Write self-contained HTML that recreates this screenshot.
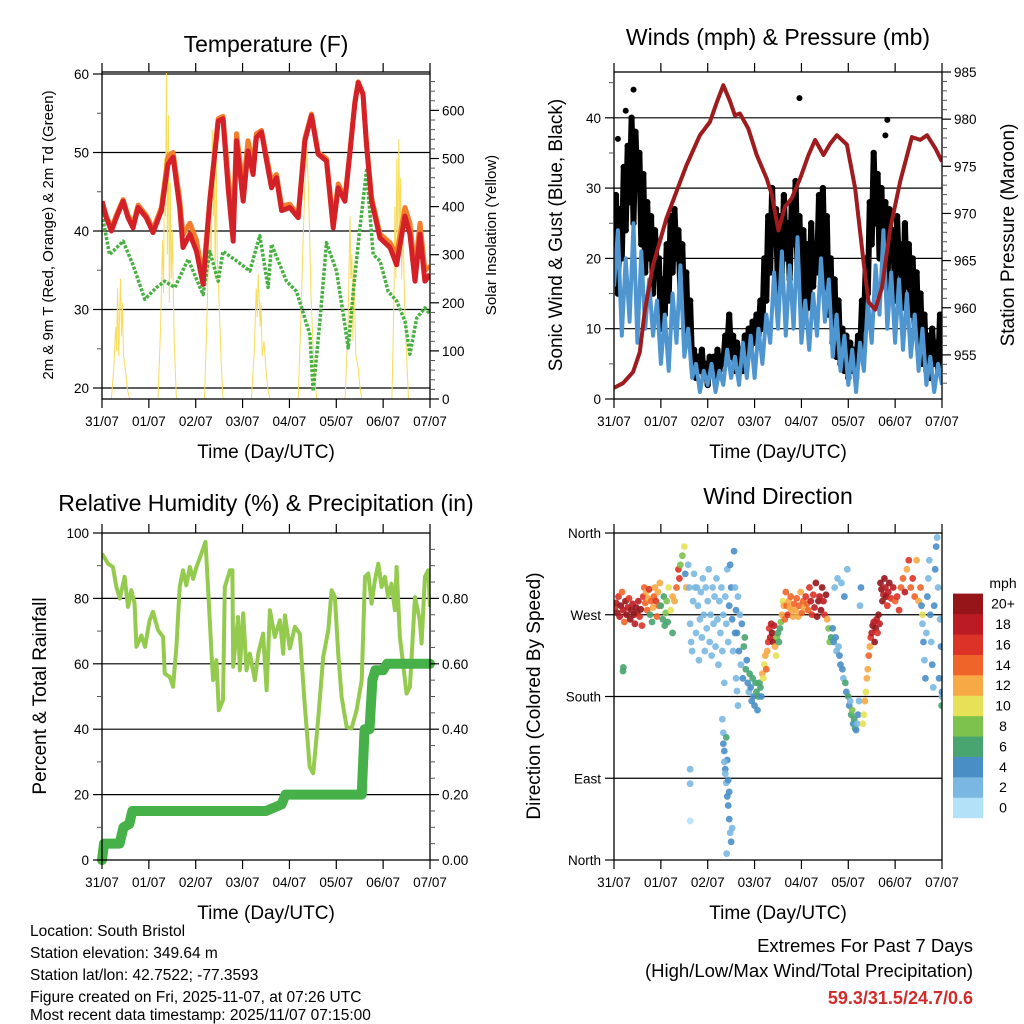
<!DOCTYPE html>
<html><head><meta charset="utf-8"><style>
html,body{margin:0;padding:0;background:#fff;}
svg{display:block;font-family:"Liberation Sans",sans-serif;}
</style></head><body>
<svg id="chart" width="1024" height="1024" viewBox="0 0 1024 1024">
<rect x="0" y="0" width="1024" height="1024" fill="#fff"/>
<text x="266" y="52" font-size="23" text-anchor="middle">Temperature (F)</text>
<text x="778" y="45" font-size="23" text-anchor="middle">Winds (mph) &amp; Pressure (mb)</text>
<text x="266" y="511" font-size="23" text-anchor="middle">Relative Humidity (%) &amp; Precipitation (in)</text>
<text x="778" y="504" font-size="23" text-anchor="middle">Wind Direction</text>
<text x="266" y="458" font-size="19" text-anchor="middle">Time (Day/UTC)</text>
<text x="778" y="458" font-size="19" text-anchor="middle">Time (Day/UTC)</text>
<text x="266" y="919" font-size="19" text-anchor="middle">Time (Day/UTC)</text>
<text x="778" y="919" font-size="19" text-anchor="middle">Time (Day/UTC)</text>
<text transform="translate(53,235) rotate(-90)" font-size="15" text-anchor="middle">2m &amp; 9m T (Red, Orange) &amp; 2m Td (Green)</text>
<text transform="translate(496,235) rotate(-90)" font-size="15" text-anchor="middle">Solar Insolation (Yellow)</text>
<text transform="translate(562,235) rotate(-90)" font-size="19" text-anchor="middle">Sonic Wind &amp; Gust (Blue, Black)</text>
<text transform="translate(1014,235) rotate(-90)" font-size="19" text-anchor="middle">Station Pressure (Maroon)</text>
<text transform="translate(46,696) rotate(-90)" font-size="19" text-anchor="middle">Percent &amp; Total Rainfall</text>
<text transform="translate(540,696) rotate(-90)" font-size="19" text-anchor="middle">Direction (Colored By Speed)</text>
<text x="1003" y="588" font-size="14" text-anchor="middle">mph</text>
<g font-size="15.5">
<text x="30" y="936">Location: South Bristol</text>
<text x="30" y="958">Station elevation: 349.64 m</text>
<text x="30" y="980">Station lat/lon: 42.7522; -77.3593</text>
<text x="30" y="1002">Figure created on Fri, 2025-11-07, at 07:26 UTC</text>
<text x="30" y="1024" dy="-4">Most recent data timestamp: 2025/11/07 07:15:00</text>
</g>
<text x="973" y="952" font-size="18.5" text-anchor="end">Extremes For Past 7 Days</text>
<text x="973" y="977" font-size="18.5" text-anchor="end">(High/Low/Max Wind/Total Precipitation)</text>
<text x="973" y="1004" font-size="18" font-weight="bold" fill="#d22b2b" text-anchor="end">59.3/31.5/24.7/0.6</text>
<defs>
<clipPath id="c1"><rect x="102" y="72" width="328" height="327"/></clipPath>
<clipPath id="c2"><rect x="614" y="72" width="328" height="327"/></clipPath>
<clipPath id="c3"><rect x="102" y="533" width="328" height="327"/></clipPath>
<clipPath id="c4"><rect x="614" y="533" width="328" height="327"/></clipPath>
</defs>
</svg>
<script>
// ---------- data ----------
const dayLabels=["31/07","01/07","02/07","03/07","04/07","05/07","06/07","07/07"];
const tempTimes=[0,2.2,4.8,7.3,10.8,13.3,15.9,18.5,22.7,26.1,30.4,33.8,36.4,39.8,41.5,45,48.4,51.8,55.2,59.5,62,64.6,67.2,68.9,72.3,74.8,77.4,79.1,81.7,84.3,86.8,89.4,92,96.2,100.5,103.9,107.3,110.7,115,118.4,121,124.4,126.9,129.5,131.2,133.7,135.4,138.1,142.4,147.5,150.9,155.2,157.7,160.3,162.9,165.4,168];
const temp2m=[43.8,41.7,40,41.7,43.8,41.7,40.4,43,41.7,39.8,42.6,48.5,49.4,43,37.9,39.6,37.4,33.2,43.8,54,54.3,45.5,38.7,51.5,43.8,50.2,47.2,51.9,52.6,48.9,45.5,46.8,42.6,43,41.7,51.5,54.7,49.8,48.9,40.4,45.5,43.8,49.8,56.2,58.9,57.4,51.1,43.8,39.1,37.9,35.7,41.9,39.6,33.6,39.6,33.6,34.5];
const temp9m=[43.8,41.9,40.3,42,44,42,40.8,43.3,42,40.2,43,49.5,50,44,39.5,41,38.8,34,44,54.3,54.6,47,40.5,52.4,45.5,51.5,48.5,52.4,52.8,49.4,46.3,47.2,43.2,43.4,42,51.8,54.9,50,49.2,41,46,44.2,50,56.4,59,57.5,51.4,44.2,39.6,38.5,37,43,41,35,41,35,35.5];
const dewTimes=[0,3.9,10.8,15.9,21.9,27.9,32.1,37.3,44.1,51.8,55.2,59.5,62,68.9,75.7,80.8,85.1,86.8,94.5,99.6,106.5,108.2,111.6,115,120.1,123.6,126.1,128.7,132.1,135.5,138.9,142.4,146.6,150.9,155.2,157.7,161.2,165.4,168];
const dewPoint=[42.1,37,38.7,35.7,31.3,32.8,33.6,32.8,36.4,31.9,37.4,33.6,37.4,36.2,34.9,39.4,32.8,38.3,33.6,32.3,26.8,19.6,28.5,38.5,34.9,29.4,25.1,32.3,40.4,47.7,37,36.2,32.3,31.1,28.5,24.3,28.9,30.2,29.4];
const solarTimes=[0,4.8,6,7,7.5,8,8.5,9,9.5,10,10.5,11,12,13,14.2,28.7,30,31,31.5,32,32.5,33,33.5,34,34.5,35,35.5,36,37,38.1,52.5,54,55,56,56.5,57,57.5,58,58.5,59,60,61,62,76.5,78,79,79.5,80,81,81.5,82,83,84,85,86,100.5,102,103,104,105,106,107,108,109,110,124.5,126,127,127.5,128,128.5,129,130,131,132,133,148.5,149.5,150,150.5,151,151.5,152,152.5,153,153.5,154,155,156,157,168];
const solarValues=[0,0,60,150,100,230,90,180,250,130,200,90,60,20,0,0,150,330,220,500,380,680,300,590,200,450,250,350,120,0,0,200,420,300,560,380,470,250,520,300,200,80,0,0,100,230,170,260,150,200,90,120,60,20,0,0,180,330,450,520,400,220,120,40,0,0,150,380,250,300,120,280,90,70,30,0,0,200,400,250,500,300,540,350,460,250,380,200,90,0,0];
const presTimes=[0,4.6,9.8,13.2,15.7,20,26.9,32.9,37.1,44,49.1,52.5,56,59.4,61.9,64.5,68.8,73.1,78.2,80.8,84.2,87.6,91,95.3,99.6,103,107.3,110.7,114.1,119.3,123.5,127.8,130.4,133.8,137.2,141.5,146.6,152.6,156.9,160.3,164.6,168];
const pressure=[951.5,952,953.2,955.3,959.6,964.5,969.5,972.8,975.1,978.3,979.7,981.7,983.6,981.9,980.4,980.6,979,976.2,973.7,972,968.2,970.7,971.6,973.7,976.2,977.8,976.2,977.4,978.3,977.3,972.7,964.9,960.6,959.8,962.1,968.4,973.4,978.1,977.8,978.3,976.9,975.5];
const sonicWind=[16,24,9,20,11,25,8,21,10,17,9,14,5,12,4,15,8,19,6,10,3,5,1,4,2,5,1,4,2,7,3,6,2,8,3,9,3,10,5,12,8,18,10,21,9,19,10,23,8,14,7,15,9,20,11,17,6,12,4,9,2,7,1,8,4,14,8,19,12,24,10,18,8,17,7,15,6,12,4,10,2,6,1,5,2];
const gust=[22,29,15,27,20,33,24,36,28,40,25,38,30,35,22,32,18,28,20,26,15,24,18,20,10,17,12,22,14,26,18,27,20,24,15,22,12,18,8,14,5,7,3,6,4,7,3,5,2,6,4,6,3,7,4,6,5,9,7,12,6,9,4,8,5,7,4,9,6,10,7,11,8,12,9,14,10,20,14,26,18,30,22,27,15,26,18,29,20,25,17,28,22,31,18,26,14,24,12,22,13,25,16,22,18,29,20,30,16,26,12,20,8,17,6,14,5,10,4,9,3,8,4,7,3,9,6,14,10,20,15,28,22,35,25,32,20,30,18,28,15,27,20,24,14,26,18,22,13,25,16,22,12,20,10,18,8,15,5,12,4,9,3,10,5,8,4,12,6];
const gustOutlierTimes=[10,95,2,6,140,139];
const gustOutlierValues=[44,42.8,37,41,39.7,37.5];
const rhTimes=[0,3.1,5.6,7.4,9.1,11.6,13.3,15,16.7,17.6,20.2,22,24.4,26.1,28.7,31.3,32.1,34.7,36.4,38.1,39.8,41.5,43.2,45,46.7,48.4,50.9,53,54.3,56.1,56.9,58.6,59.8,62,62.9,65.5,66.8,67.2,69.7,70.6,72.3,74,75.7,78.3,80,82.5,84.3,86,88.5,91.1,92.8,93.7,96.2,98.8,101.3,103.9,106.4,108.2,110.7,113.3,115.9,117.6,119.3,121,122.7,125.3,127.8,130.4,133,134.7,136.4,138.1,139.8,141.5,143.2,144.9,146.6,148.3,150,150.9,152.6,156,157.7,160.3,162.8,163.7,165.4,167.1,168];
const rhValues=[93.7,90.6,89.6,83.5,80,86.6,77.4,82.5,78.4,65.2,68.7,65.2,73.3,75.9,70.3,68.2,57,56,53,65.2,83.5,88.6,84,89.6,86,89.6,93.7,97.3,83.5,63.1,55,61.1,45.8,48.9,83.5,88.6,88.6,59.1,74.3,58,75.4,58,63.1,55,63.1,69.2,51.9,76.4,68.2,73.3,63.1,74.8,64.7,71.3,69.2,46.8,28.5,26.5,42.8,62.1,70.3,82.5,80.4,63.1,49.9,40.7,40.2,45.8,55,86.6,87.6,78.4,85.5,90.6,83.5,86.6,80.4,84.5,76.4,89.6,68.2,50.9,52.9,80.4,73.3,66.2,86.6,88.6,77.4];
const rainTimes=[0,1,9,11,14,15.5,84,88,92,94,133,134.5,137,138.5,140,144,146,168];
const rainTotals=[0,0.05,0.05,0.10,0.11,0.15,0.15,0.16,0.17,0.20,0.20,0.40,0.40,0.55,0.58,0.58,0.60,0.60];
// wind direction points: time (h), direction (deg), speed (mph)
const dirTimes=[
0.5,1.1,1.7,2.3,2.9,3.5,4.1,4.7,5.3,5.9,6.5,7.1,7.7,8.3,8.9,9.5,10.1,10.7,11.3,11.9,12.5,13.1,13.7,14.3,4.6,4.8,
15,15.5,16,16.5,17,17.5,18,18.5,19,19.5,20,20.5,21,21.5,22,22.5,23,23.5,
24,25,25.5,26,26.5,27,27.5,28,29,30,31,32,33,33.5,34,35,36,37,36.5,30,
38,38.5,39,39.5,40,40.5,41,41.5,42,42.5,43,43.5,44,44.5,45,45.5,46,46.5,47,47.5,48,48.5,49,49.5,50,50.5,51,51.5,52,52.5,53,53.5,54,54.5,55,55.5,56,56.5,57,57.5,58,58.5,59,59.5,60,60.5,61,61.5,62,62.5,63,63.5,
55.5,56,56.5,57,57.5,58,58.5,59,59.5,60,57,58,59,56,60.5,58.5,57.5,56.5,57.7,39,39,39,
62,62.5,63,63.5,64,64.5,65,65.5,66,66.5,67,67.5,68,68.5,69,69.5,70,70.5,71,71.5,72,72.5,73,73.5,74,74.5,75,75.5,76,76.5,77,77.5,
78,78.5,79,79.5,80,80.5,81,81.5,82,82.5,83,83.5,84,84.5,85,85.5,86,86.5,87,87.5,88,88.5,89,89.5,90,90.5,
91,91.7,92.3,93,93.6,94.3,94.9,95.6,96.2,96.9,97.5,98.2,98.8,99.5,100.1,100.8,101.4,102.1,102.7,103.4,104,104.7,105.3,106,106.6,107.3,107.9,108.6,109.2,109.9,110.5,111.2,
112,112.5,113,113.5,114,114.5,115,115.5,116,116.5,117,117.5,118,118.5,119,119.5,120,120.5,121,121.5,122,122.5,123,123.5,124,124.5,125,125.5,126,126.5,
127.5,128,128.5,129,129.5,130,130.5,131,131.5,132,132.5,133,133.5,134,134.5,135,135.5,136,
136.5,137,137.5,138,138.5,139,139.5,140,140.5,141,142,143,144,145,146,147,148,149,150,151,152,153,154,155,156,157,158,
157.5,158,158.5,159,159.5,160,160.5,161,161.5,162,162.5,163,163.5,164,164.5,165,165.5,166,166.5,167,167.5,168,168,167.8];
const dirValues=[
278,283,272,290,268,280,295,275,262,285,270,278,288,265,275,282,270,260,278,272,285,268,276,258,208,212,
290,300,283,295,275,288,298,270,285,262,278,290,300,285,268,295,280,305,
280,265,290,258,272,285,262,300,275,290,285,300,320,310,325,335,345,300,315,250,
325,300,260,240,230,285,315,300,250,300,280,220,265,295,245,310,270,230,300,255,285,320,240,270,225,300,260,290,235,310,265,215,285,250,300,230,270,195,290,260,320,240,280,325,300,265,230,340,250,200,186,170,
155,140,120,100,85,70,60,45,30,20,95,110,75,128,35,88,135,108,7,100,84,43,
300,275,250,290,230,270,215,260,200,235,245,210,220,195,185,205,190,175,200,180,170,195,185,165,180,195,190,180,205,200,215,225,
210,230,240,255,245,260,250,240,258,235,225,245,250,240,255,262,270,285,280,265,295,280,270,285,278,290,
275,268,282,275,288,268,280,295,272,285,278,290,282,275,300,285,270,292,278,305,268,285,290,275,300,285,270,292,265,255,240,245,
255,240,300,245,230,310,235,225,215,305,210,200,290,195,185,320,180,170,175,160,165,150,155,145,143,150,160,175,280,300,
150,160,175,185,200,210,225,235,245,250,258,262,240,255,265,250,270,260,
305,298,285,292,310,300,290,280,295,305,288,300,285,290,275,300,310,295,320,330,300,310,290,330,285,300,270,
280,260,240,220,200,250,290,310,330,270,240,215,190,280,320,345,355,300,200,265,235,180,185,170];
const dirSpeeds=[
17,19,20,16,18,20,15,19,14,20,21,18,17,20,22,19,20,18,21,20,19,17,20,16,7,7,
16,15,14,13,15,12,16,7,14,6,12,15,13,16,14,12,14,13,
7,6,7,6,8,9,7,10,11,12,13,14,16,17,9,8,10,12,4,6,
3,3,2,3,2,3,2,3,2,3,3,3,3,2,2,3,3,2,3,2,3,3,3,2,3,3,2,3,2,3,3,3,2,3,3,2,3,2,3,2,3,3,4,4,5,4,3,4,4,3,2,2,
2,2,4,4,3,4,4,4,3,4,3,4,4,4,3,4,6,3,3,2,2,1,
3,4,4,3,4,3,3,4,5,6,6,6,5,4,3,6,5,4,6,5,4,6,7,4,6,7,6,5,12,11,10,13,
14,13,17,16,18,18,20,20,19,12,10,8,6,7,6,8,13,10,12,14,15,14,16,12,13,15,
13,12,14,12,15,13,14,12,15,14,13,16,14,15,16,18,17,16,19,20,21,20,19,21,20,18,17,20,12,9,8,7,
4,4,3,4,3,3,3,4,4,3,4,3,4,6,4,3,6,4,3,6,8,4,6,6,4,3,4,3,3,4,
10,11,12,10,12,13,14,12,16,18,20,19,21,20,18,17,20,19,
20,21,20,19,21,18,20,17,19,20,16,18,14,17,16,15,14,18,12,16,15,17,14,12,13,15,10,
4,3,4,3,4,3,4,2,3,4,3,4,3,4,5,4,3,3,4,3,4,3,4,6];

// ---------- helpers ----------
const NS="http://www.w3.org/2000/svg";
const svg=document.getElementById('chart');
function mk(tag,attrs,parent){const e=document.createElementNS(NS,tag);for(const k in attrs)e.setAttribute(k,attrs[k]);(parent||svg).appendChild(e);return e;}
const P1={x0:102,x1:430,y0:72,y1:399},P2={x0:614,x1:942,y0:72,y1:399},P3={x0:102,x1:430,y0:533,y1:860},P4={x0:614,x1:942,y0:533,y1:860};
function xT(p,t){return p.x0+t/168*(p.x1-p.x0);}
const yTemp=v=>388-(v-20)*7.85, ySolar=v=>399-v*0.481;
const yWind=v=>399-v*7.03, yPres=v=>72+(985-v)*9.43;
const yRH=v=>860-v*3.27, yRain=v=>860-v*327;
const yDir=v=>860-v*327/360;
function pts(p,ts,vs,fy){return ts.map((t,i)=>xT(p,t).toFixed(1)+","+fy(vs[i]).toFixed(1)).join(" ");}
function speedColor(s){const c=["#b3e1f7","#7ab8e2","#4a8ec6","#48a56f","#7cc24c","#e6e157","#f6a945","#ef6429","#dc3328","#bb1c24","#951519"];return c[Math.min(10,Math.floor(s/2))];}

function grid(p,ys,name){
  ys.forEach(y=>{const l=mk('line',{x1:p.x0,x2:p.x1,y1:y,y2:y,stroke:'#000','stroke-width':1.2});
  
  });
}
function frame(p,name){
  const r=mk('rect',{x:p.x0,y:p.y0,width:p.x1-p.x0,height:p.y1-p.y0,fill:'none',stroke:'#000','stroke-width':1.3});
  
  
  dayLabels.forEach((d,i)=>{const x=xT(p,i*24);
    const a=mk('line',{x1:x,x2:x,y1:p.y1,y2:p.y1+9,stroke:'#000','stroke-width':1.2});
    
    
    const b=mk('line',{x1:x,x2:x,y1:p.y0,y2:p.y0-9,stroke:'#000','stroke-width':1.2});
    
    
    const t=mk('text',{x:x,y:p.y1+27,'font-size':13.5,'text-anchor':'middle'});t.textContent=d;
    
    });
}
function yAxis(p,vals,fy,labels,side,minor,name){
  vals.forEach((v,i)=>{const y=fy(v);const x=side==='l'?p.x0:p.x1;const dx=side==='l'?-9:9;
    const l=mk('line',{x1:x,x2:x+dx,y1:y,y2:y,stroke:'#000','stroke-width':1.2});
    
    
    const t=mk('text',{x:side==='l'?x-13:x+12,y:y+5,'font-size':13.5,'text-anchor':side==='l'?'end':'start'});t.textContent=labels[i];
    
    });
  minor.forEach(v=>{const y=fy(v);const x=side==='l'?p.x0:p.x1;const dx=side==='l'?-5:5;
    const l=mk('line',{x1:x,x2:x+dx,y1:y,y2:y,stroke:'#555','stroke-width':1});
    
    });
}
function range(a,b,s){const r=[];for(let v=a;v<=b+1e-9;v+=s)r.push(+v.toFixed(3));return r;}

// ---------- panel 1 temperature ----------
grid(P1,[20,30,40,50,60].map(yTemp),'temperature-gridline');
const g1=mk('g',{'clip-path':'url(#c1)'});


const sol=mk('polyline',{points:pts(P1,solarTimes,solarValues,ySolar),fill:'none',stroke:'#f7dc5a','stroke-width':1},g1);


const dew=mk('polyline',{points:pts(P1,dewTimes,dewPoint,yTemp),fill:'none',stroke:'#47b041','stroke-width':3.5,'stroke-dasharray':'3 1.6','stroke-linejoin':'round'},g1);


const t9=mk('polyline',{points:pts(P1,tempTimes,temp9m,yTemp),fill:'none',stroke:'#f47d2c','stroke-width':5,'stroke-linejoin':'round'},g1);


const t2=mk('polyline',{points:pts(P1,tempTimes,temp2m,yTemp),fill:'none',stroke:'#d42027','stroke-width':5,'stroke-linejoin':'round'},g1);


frame(P1,'temperature-frame');
yAxis(P1,[20,30,40,50,60],yTemp,["20","30","40","50","60"],'l',[25,35,45,55],'temperature-y');
yAxis(P1,range(0,600,100),ySolar,["0","100","200","300","400","500","600"],'r',range(20,660,20).filter(v=>v%100),'solar-y');

// ---------- panel 2 winds ----------
grid(P2,[10,20,30,40].map(yWind),'wind-gridline');
const g2=mk('g',{'clip-path':'url(#c2)'});


const gustTimes=gust.map((v,i)=>i);
const gl=mk('polyline',{points:pts(P2,gustTimes,gust,yWind),fill:'none',stroke:'#000','stroke-width':6,'stroke-linejoin':'round'},g2);


gust.forEach((v,i)=>{const c=mk('circle',{cx:xT(P2,gustTimes[i]),cy:yWind(v),r:3.2,fill:'#000'},g2);
  
  });
gustOutlierTimes.forEach((t,i)=>{const c=mk('circle',{cx:xT(P2,t),cy:yWind(gustOutlierValues[i]),r:3,fill:'#000'},g2);
  
  });
const windTimes=sonicWind.map((v,i)=>i*2);
const wl=mk('polyline',{points:pts(P2,windTimes,sonicWind,yWind),fill:'none',stroke:'#4f96d0','stroke-width':4,'stroke-linejoin':'round'},g2);


const pl=mk('polyline',{points:pts(P2,presTimes,pressure,yPres),fill:'none',stroke:'#9e1b1e','stroke-width':4,'stroke-linejoin':'round'},g2);


frame(P2,'winds-frame');
yAxis(P2,[0,10,20,30,40],yWind,["0","10","20","30","40"],'l',[5,15,25,35,45],'wind-y');
yAxis(P2,range(955,985,5),yPres,["955","960","965","970","975","980","985"],'r',range(952,985,1).filter(v=>v%5),'pressure-y');

// ---------- panel 3 humidity ----------
grid(P3,[20,40,60,80].map(yRH),'humidity-gridline');
const g3=mk('g',{'clip-path':'url(#c3)'});


const rl=mk('polyline',{points:pts(P3,rhTimes,rhValues,yRH),fill:'none',stroke:'#94cb4f','stroke-width':4,'stroke-linejoin':'round'},g3);


const prl=mk('polyline',{points:pts(P3,rainTimes,rainTotals,yRain),fill:'none',stroke:'#46b049','stroke-width':10,'stroke-linejoin':'round','stroke-linecap':'round'},svg);


frame(P3,'humidity-frame');
yAxis(P3,[0,20,40,60,80,100],yRH,["0","20","40","60","80","100"],'l',[10,30,50,70,90],'humidity-y');
yAxis(P3,[0,0.2,0.4,0.6,0.8],yRain,["0.00","0.20","0.40","0.60","0.80"],'r',range(0.05,0.95,0.05).filter(v=>Math.abs(v*5-Math.round(v*5))>0.01),'rain-y');

// ---------- panel 4 wind direction ----------
grid(P4,[90,180,270].map(yDir),'direction-gridline');
const g4=mk('g',{'clip-path':'url(#c4)'});


dirTimes.forEach((t,i)=>{const c=mk('circle',{cx:xT(P4,t),cy:yDir(dirValues[i]),r:3.4,fill:speedColor(dirSpeeds[i]),'fill-opacity':0.9},g4);
  
  });
frame(P4,'direction-frame');
yAxis(P4,[0,90,180,270,360],yDir,["North","East","South","West","North"],'l',[],'direction-y');
const cbLabels=["0","2","4","6","8","10","12","14","16","18","20+"];
cbLabels.forEach((lab,i)=>{const y=818-(i+1)*20.4;
  const r=mk('rect',{x:953,y:y,width:30,height:20.6,fill:speedColor(i*2)});
  
  
  const t=mk('text',{x:1003,y:y+15,'font-size':14,'text-anchor':'middle'});t.textContent=lab;
  
  });
</script>
</body></html>
